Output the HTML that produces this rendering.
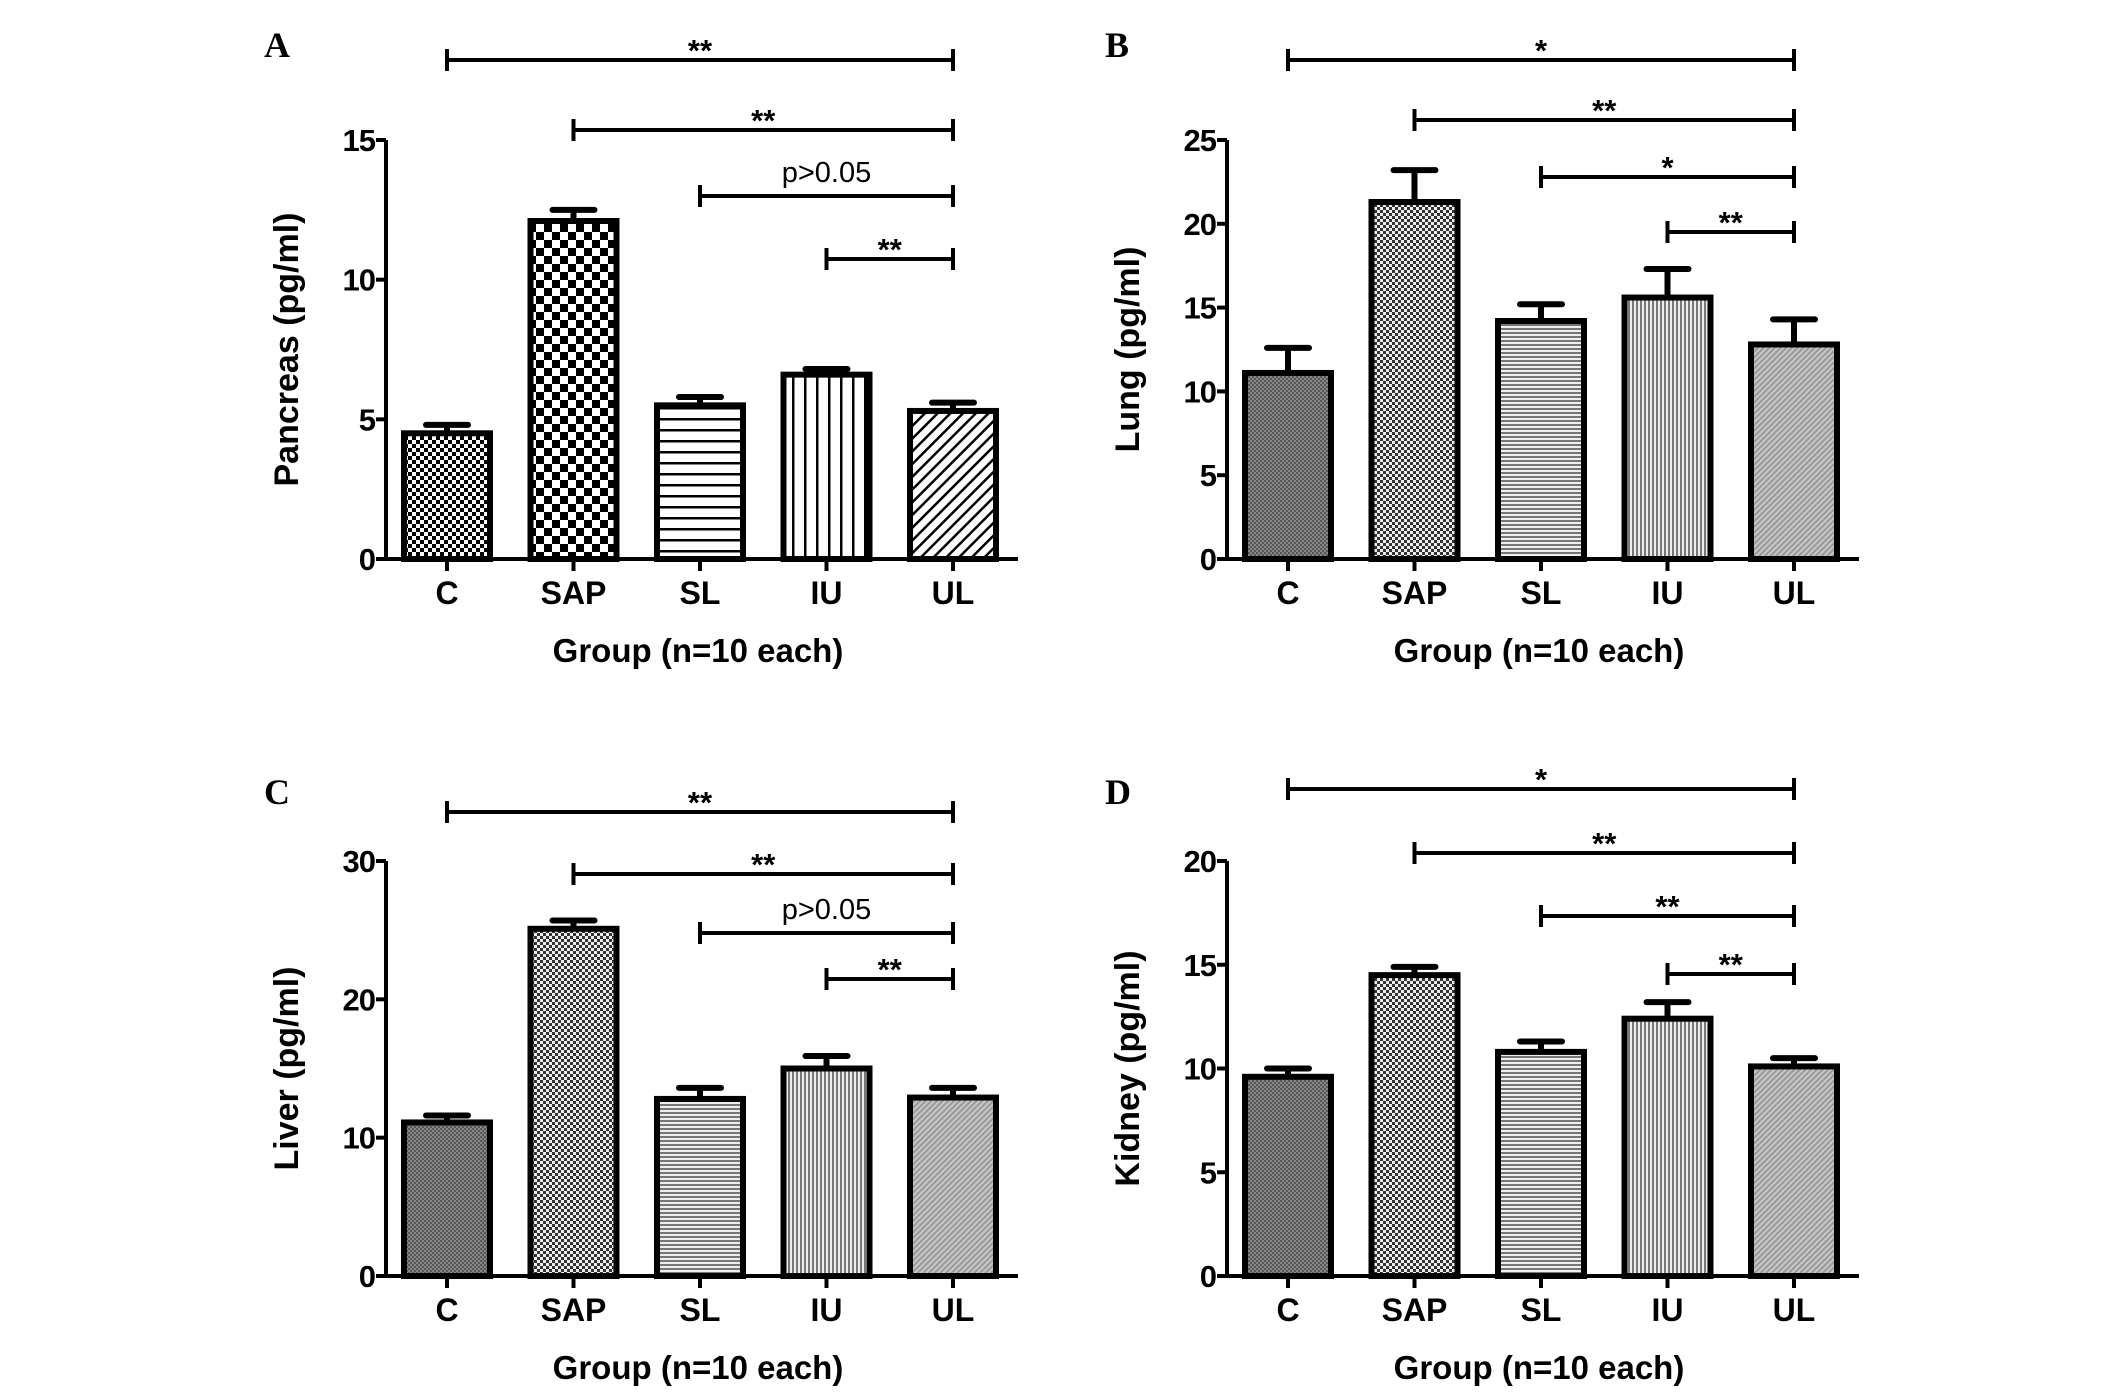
<!DOCTYPE html>
<html><head><meta charset="utf-8"><style>
html,body{margin:0;padding:0;background:#fff}
svg{display:block}
text{font-family:"Liberation Sans",Arial,sans-serif}
text.serif{font-family:"Liberation Serif",serif}
</style></head><body>
<svg id="fig" width="2126" height="1394" viewBox="0 0 2126 1394" xmlns="http://www.w3.org/2000/svg">
<defs>
<pattern id="pA0" width="8" height="8" patternUnits="userSpaceOnUse"><rect width="8" height="8" fill="#fff"/><rect width="4" height="4" fill="#000"/><rect x="4" y="4" width="4" height="4" fill="#000"/></pattern>
<pattern id="pA1" width="16" height="16" patternUnits="userSpaceOnUse"><rect width="16" height="16" fill="#fff"/><rect width="8" height="8" fill="#000"/><rect x="8" y="8" width="8" height="8" fill="#000"/></pattern>
<pattern id="pA2" width="10" height="11" patternUnits="userSpaceOnUse"><rect width="10" height="11" fill="#fff"/><rect y="0" width="10" height="2.5" fill="#000"/></pattern>
<pattern id="pA3" width="12" height="10" patternUnits="userSpaceOnUse"><rect width="12" height="10" fill="#fff"/><rect x="0" width="2.5" height="10" fill="#000"/></pattern>
<pattern id="pA4" width="9" height="9" patternUnits="userSpaceOnUse" patternTransform="rotate(45)"><rect width="9" height="9" fill="#fff"/><rect width="2.5" height="9" fill="#000"/></pattern>
<pattern id="pG0" width="4" height="4" patternUnits="userSpaceOnUse"><rect width="4" height="4" fill="#888"/><rect width="2" height="2" fill="#555"/><rect x="2" y="2" width="2" height="2" fill="#555"/></pattern>
<pattern id="pG1" width="6" height="6" patternUnits="userSpaceOnUse"><rect width="6" height="6" fill="#eee"/><rect width="3" height="3" fill="#333"/><rect x="3" y="3" width="3" height="3" fill="#333"/></pattern>
<pattern id="pG2" width="4" height="4" patternUnits="userSpaceOnUse"><rect width="4" height="4" fill="#eee"/><rect width="4" height="2" fill="#777"/></pattern>
<pattern id="pG3" width="4" height="4" patternUnits="userSpaceOnUse"><rect width="4" height="4" fill="#eee"/><rect width="2" height="4" fill="#777"/></pattern>
<pattern id="pG4" width="4" height="4" patternUnits="userSpaceOnUse" patternTransform="rotate(45)"><rect width="4" height="4" fill="#c8c8c8"/><rect width="2" height="4" fill="#999"/></pattern>
</defs>
</svg>
<script>
const categories = ["C","SAP","SL","IU","UL"];
const pancreasValues = [4.5, 12.1, 5.5, 6.6, 5.3];
const pancreasErrors = [0.3, 0.4, 0.3, 0.2, 0.3];
const lungValues = [11.1, 21.3, 14.2, 15.6, 12.8];
const lungErrors = [1.5, 1.9, 1.0, 1.7, 1.5];
const liverValues = [11.1, 25.1, 12.8, 15.0, 12.9];
const liverErrors = [0.5, 0.6, 0.8, 0.9, 0.7];
const kidneyValues = [9.6, 14.5, 10.8, 12.4, 10.1];
const kidneyErrors = [0.4, 0.4, 0.5, 0.8, 0.4];
const pancreasTicks = [0, 5, 10, 15];
const lungTicks = [0, 5, 10, 15, 20, 25];
const liverTicks = [0, 10, 20, 30];
const kidneyTicks = [0, 5, 10, 15, 20];
const pancreasSigFrom = [0, 1, 2, 3];
const pancreasSigLabels = ["**", "**", "p>0.05", "**"];
const lungSigFrom = [0, 1, 2, 3];
const lungSigLabels = ["*", "**", "*", "**"];
const liverSigFrom = [0, 1, 2, 3];
const liverSigLabels = ["**", "**", "p>0.05", "**"];
const kidneySigFrom = [0, 1, 2, 3];
const kidneySigLabels = ["*", "**", "**", "**"];

const NS = "http://www.w3.org/2000/svg";
const svg = document.getElementById('fig');
function mk(tag, attrs, parent, txt) {
  const e = document.createElementNS(NS, tag);
  for (const k in attrs) e.setAttribute(k, attrs[k]);
  if (txt !== undefined) e.textContent = txt;
  (parent || svg).appendChild(e);
  return e;
}

const panels = [
  {id:"a", letter:"A", ax:386, top:140, zero:559, ymax:15, ticks:pancreasTicks, vals:pancreasValues, errs:pancreasErrors, ylabel:"Pancreas (pg/ml)", sigFrom:pancreasSigFrom, sigLab:pancreasSigLabels, sigY:[60,130,196,259], pats:["pA0","pA1","pA2","pA3","pA4"], ly:45},
  {id:"b", letter:"B", ax:1227, top:140, zero:559, ymax:25, ticks:lungTicks, vals:lungValues, errs:lungErrors, ylabel:"Lung (pg/ml)", sigFrom:lungSigFrom, sigLab:lungSigLabels, sigY:[60,120,177,232], pats:["pG0","pG1","pG2","pG3","pG4"], ly:45},
  {id:"c", letter:"C", ax:386, top:861, zero:1276, ymax:30, ticks:liverTicks, vals:liverValues, errs:liverErrors, ylabel:"Liver (pg/ml)", sigFrom:liverSigFrom, sigLab:liverSigLabels, sigY:[812,874,933,979], pats:["pG0","pG1","pG2","pG3","pG4"], ly:792},
  {id:"d", letter:"D", ax:1227, top:861, zero:1276, ymax:20, ticks:kidneyTicks, vals:kidneyValues, errs:kidneyErrors, ylabel:"Kidney (pg/ml)", sigFrom:kidneySigFrom, sigLab:kidneySigLabels, sigY:[789,853,916,974], pats:["pG0","pG1","pG2","pG3","pG4"], ly:792}
];

panels.forEach(p => {
  const g = mk('g', {});
  
  
  const y = v => p.zero - (v / p.ymax) * (p.zero - p.top);
  const x = i => p.ax + 61 + i * 126.5;
  const bw = 86;

  const L = mk('text', {class: 'serif', x: p.ax - 122, y: p.ly + 12, 'font-weight': 'bold', 'font-size': 36}, g, p.letter);
  
  

  p.vals.forEach((v, i) => {
    const top = y(v);
    const eb = mk('path', {d: `M${x(i)} ${top} V${y(v + p.errs[i])} M${x(i) - 21} ${y(v + p.errs[i])} H${x(i) + 21}`, stroke: '#000', 'stroke-width': 6, 'stroke-linecap': 'round', fill: 'none'}, g);
    
    
    const r = mk('rect', {x: x(i) - bw / 2, y: top, width: bw, height: p.zero - top, fill: `url(#${p.pats[i]})`, stroke: '#000', 'stroke-width': 6}, g);
    
    
  });

  const ya = mk('path', {d: `M${p.ax} ${p.top} V${p.zero}`, stroke: '#000', 'stroke-width': 4, fill: 'none'}, g);
  
  
  const xa = mk('path', {d: `M${p.ax} ${p.zero} H${p.ax + 632}`, stroke: '#000', 'stroke-width': 4, fill: 'none'}, g);
  
  

  p.ticks.forEach(t => {
    mk('path', {d: `M${p.ax - 10} ${y(t)} H${p.ax}`, stroke: '#000', 'stroke-width': 4}, g);
    const tl = mk('text', {x: p.ax - 11, y: y(t) + 11, 'text-anchor': 'end', 'font-weight': 'bold', 'font-size': 31, 'letter-spacing': -1}, g, String(t));
    
    
  });
  categories.forEach((c, i) => {
    mk('path', {d: `M${x(i)} ${p.zero} V${p.zero + 12}`, stroke: '#000', 'stroke-width': 4}, g);
    const cl = mk('text', {x: x(i), y: p.zero + 45, 'text-anchor': 'middle', 'font-weight': 'bold', 'font-size': 32}, g, c);
    
    
  });

  const xt = mk('text', {x: p.ax + 312, y: p.zero + 103, 'text-anchor': 'middle', 'font-weight': 'bold', 'font-size': 33}, g, 'Group (n=10 each)');
  
  
  const cy = (p.top + p.zero) / 2;
  const tx = p.ax - 100;
  const yt = mk('text', {x: tx, y: cy, 'text-anchor': 'middle', 'font-weight': 'bold', 'font-size': 34, transform: `rotate(-90 ${tx} ${cy})`, dy: 12}, g, p.ylabel);
  
  

  p.sigFrom.forEach((f, k) => {
    const x1 = x(f), x2 = x(4), sy = p.sigY[k];
    const br = mk('path', {d: `M${x1} ${sy} H${x2} M${x1} ${sy - 11} V${sy + 11} M${x2} ${sy - 11} V${sy + 11}`, stroke: '#000', 'stroke-width': 4, fill: 'none'}, g);
    
    
    const lab = p.sigLab[k];
    const isP = lab.startsWith('p');
    const st = mk('text', {x: (x1 + x2) / 2, y: isP ? sy - 14 : sy + 1, 'text-anchor': 'middle', 'font-weight': isP ? 'normal' : 'bold', 'font-size': isP ? 29 : 31}, g, lab);
    
    
  });
});
</script>
</body></html>
